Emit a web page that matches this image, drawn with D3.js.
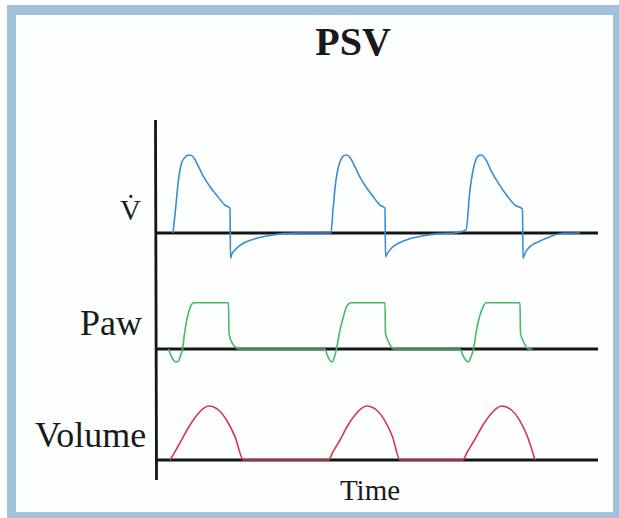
<!DOCTYPE html>
<html>
<head>
<meta charset="utf-8">
<script src="https://cdn.jsdelivr.net/npm/d3@7"></script>
<style>
  html, body { margin: 0; padding: 0; background: #fff; }
  svg { display: block; }
  text { font-family: "Liberation Serif", "Times New Roman", serif; fill: #1a1a1a; }
</style>
</head>
<body>
<div id="chart"></div>
<script>
// time in seconds
const title = "PSV";
const panelLabels = ["V\u0307", "Paw", "Volume"];
const xLabel = "Time";

// flow (L/min)
const flowData = [
  [0.36, 0], [0.41, 18], [0.47, 41], [0.53, 53.6], [0.60, 58.2], [0.66, 59.8], [0.70, 60],
  [0.77, 58.2], [0.87, 51], [0.97, 43.3], [1.10, 35.6], [1.23, 29.2], [1.40, 21.5],
  [1.50, 19], [1.51, -19.5], [1.53, -16.9], [1.63, -11.8], [1.77, -7.9], [1.97, -4.8],
  [2.23, -2.3], [2.57, -0.5], [2.90, 0],
  [3.52, 0], [3.56, 17.7], [3.62, 40.8], [3.69, 53.8], [3.75, 58.5], [3.80, 59.8], [3.84, 60],
  [3.90, 58], [4.00, 50.8], [4.10, 43], [4.22, 35.4], [4.34, 29.2], [4.50, 21.5],
  [4.60, 19.2], [4.61, -18.5], [4.64, -16.2], [4.74, -11.2], [4.88, -7.7], [5.08, -4.6],
  [5.34, -2.3], [5.68, -0.5], [6.00, 0],
  [6.10, 0.8], [6.22, 2.3], [6.30, 33.1], [6.37, 49.8], [6.43, 57.5], [6.49, 59.8], [6.53, 60],
  [6.62, 56.2], [6.73, 47.2], [6.87, 38.2], [7.03, 29.2], [7.20, 21.5], [7.35, 18.5],
  [7.36, -19.5], [7.40, -15.6], [7.50, -10.5], [7.67, -6.7], [7.90, -2.8], [8.17, -0.2],
  [8.50, 0]
];

// airway pressure (cmH2O)
const pawData = [
  [0.27, 0], [0.31, -1.8], [0.36, -3.5], [0.42, -4.3], [0.47, -4.0], [0.51, -2.2], [0.55, 0],
  [0.60, 6.3], [0.65, 10.8], [0.71, 14.1], [0.78, 15.4], [1.47, 15.4], [1.48, 5.2],
  [1.53, 2.4], [1.60, 0.8], [1.66, 0],
  [3.40, 0], [3.44, -1.8], [3.49, -3.6], [3.54, -4.3], [3.59, -2.6], [3.63, 0], [3.70, 6.3],
  [3.77, 10.8], [3.83, 14.1], [3.92, 15.4], [4.60, 15.4], [4.61, 5.2], [4.67, 2.4],
  [4.72, 0.8], [4.77, 0],
  [6.10, 0], [6.15, -1.8], [6.21, -3.6], [6.27, -4.3], [6.32, -2.6], [6.37, 0], [6.43, 6.3],
  [6.50, 11.3], [6.57, 14.3], [6.62, 15.4], [7.30, 15.4], [7.31, 5.2], [7.37, 2.4],
  [7.42, 0.8], [7.47, 0], [7.55, 0]
];

// volume (mL)
const volData = [
  [0.30, 0], [0.40, 77], [0.53, 185], [0.70, 324], [0.87, 433], [0.97, 478], [1.07, 500],
  [1.17, 490], [1.27, 463], [1.43, 370], [1.60, 216], [1.77, 0],
  [3.47, 0], [3.56, 77], [3.70, 185], [3.86, 324], [4.03, 433], [4.13, 478], [4.23, 500],
  [4.33, 490], [4.43, 463], [4.59, 370], [4.75, 216], [4.90, 0],
  [6.15, 0], [6.25, 77], [6.39, 185], [6.56, 324], [6.73, 433], [6.83, 478], [6.93, 500],
  [7.03, 490], [7.13, 463], [7.29, 370], [7.45, 216], [7.60, 0]
];

const W = 619, H = 518;

const svg = d3.select("#chart").append("svg")
  .attr("width", W)
  .attr("height", H);

// frame
svg.append("rect").attr("x", 7).attr("y", 5).attr("width", W - 7).attr("height", H - 5)
  .attr("fill", "#a4c1db");
svg.append("rect").attr("x", 16).attr("y", 15).attr("width", 597).attr("height", 497)
  .attr("fill", "#fdfefe");

const x = d3.scaleLinear().domain([0, 8.86]).range([155, 598]);

const panels = [
  { label: panelLabels[0], data: flowData, color: "#3a8dd0", base: 233,
    y: d3.scaleLinear().domain([0, 60]).range([233, 155]),
    lx: 120, ly: 220, size: 29 },
  { label: panelLabels[1], data: pawData, color: "#47b96b", base: 349,
    y: d3.scaleLinear().domain([0, 15.4]).range([349, 302.7]),
    lx: 80, ly: 335, size: 36 },
  { label: panelLabels[2], data: volData, color: "#da3550", base: 460,
    y: d3.scaleLinear().domain([0, 500]).range([460, 406]),
    lx: 35, ly: 447, size: 36 }
];

// vertical axis
svg.append("line")
  .attr("x1", x(0) + 0.5).attr("x2", x(0) + 1.5)
  .attr("y1", 120).attr("y2", 480)
  .attr("stroke", "#151515").attr("stroke-width", 2.8);

panels.forEach(p => {
  const g = svg.append("g");

  g.append("line")
    .attr("x1", x(0)).attr("x2", x(8.86))
    .attr("y1", p.base).attr("y2", p.base)
    .attr("stroke", "#151515").attr("stroke-width", 3);

  const line = d3.line()
    .x(d => x(d[0]))
    .y(d => p.y(d[1]))
    .curve(d3.curveMonotoneX);

  g.append("path")
    .datum(p.data)
    .attr("d", line)
    .attr("fill", "none")
    .attr("stroke", p.color)
    .attr("stroke-width", 1.6)
    .attr("stroke-linejoin", "round");

  g.append("text")
    .attr("x", p.lx).attr("y", p.ly)
    .style("font-size", p.size + "px")
    .text(p.label);
});

svg.append("text")
  .attr("x", 353).attr("y", 55)
  .attr("text-anchor", "middle")
  .style("font-size", "40px")
  .style("font-weight", "bold")
  .text(title);

svg.append("text")
  .attr("x", 370).attr("y", 500)
  .attr("text-anchor", "middle")
  .style("font-size", "29px")
  .text(xLabel);
</script>
</body>
</html>
